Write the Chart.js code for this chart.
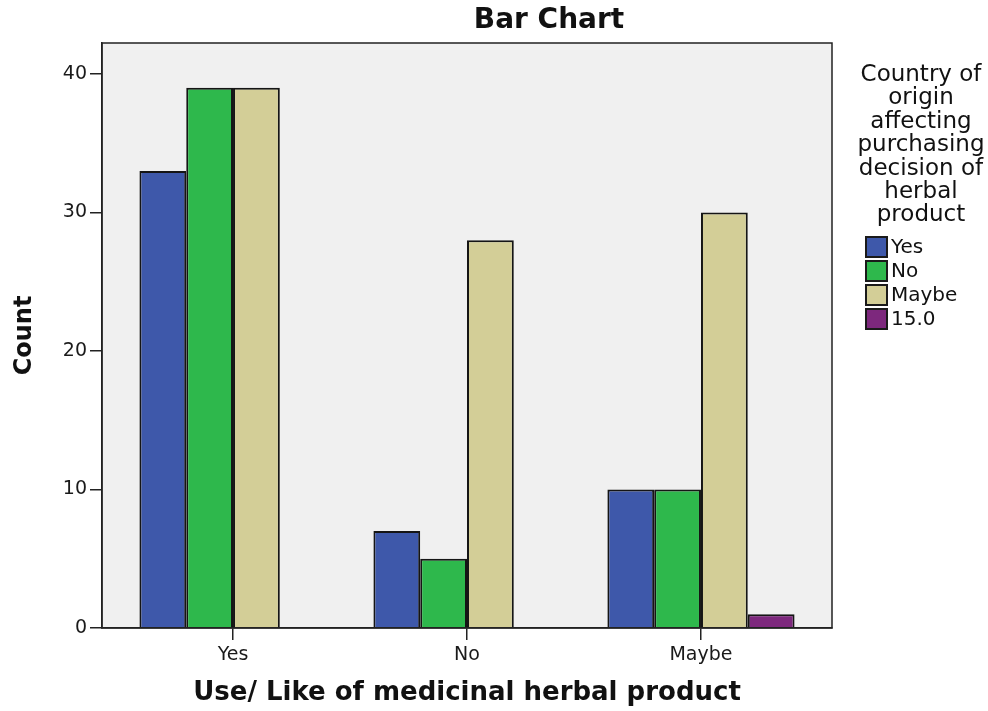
<!DOCTYPE html>
<html>
<head>
<meta charset="utf-8">
<script src="https://cdn.jsdelivr.net/npm/chart.js@4.4.1/dist/chart.umd.min.js"></script>
<style>
  html, body { margin: 0; padding: 0; background: #fff; }
  #wrap { width: 988px; height: 711px; }
</style>
</head>
<body>
<div id="wrap"><canvas id="barChart" width="988" height="711"></canvas></div>
<script>
var categories = ['Yes', 'No', 'Maybe'];
var seriesNames = ['Yes', 'No', 'Maybe', '15.0'];
var yesValues = [33, 7, 10];
var noValues = [39, 5, 10];
var maybeValues = [39, 28, 30];
var otherValues = [0, 0, 1];
var yTicks = [0, 10, 20, 30, 40];

var colors = {
  blue: 'rgb(62, 88, 170)',
  green: 'rgb(46, 184, 76)',
  tan: 'rgb(211, 206, 151)',
  purple: 'rgb(125, 40, 125)'
};
var seriesColors = [colors.blue, colors.green, colors.tan, colors.purple];
var legendTitle = ['Country of', 'origin', 'affecting', 'purchasing', 'decision of', 'herbal', 'product'];

function points(values) {
  return values.map(function (v, i) { return { x: i, y: v }; });
}

// grey plot box, title and legend
var decorations = {
  id: 'decorations',
  beforeDraw: function (chart) {
    var ctx = chart.ctx, a = chart.chartArea;
    ctx.save();
    ctx.fillStyle = '#f0f0f0';
    ctx.fillRect(a.left, a.top, a.right - a.left, a.bottom - a.top);
    ctx.restore();
  },
  afterDraw: function (chart) {
    var ctx = chart.ctx, a = chart.chartArea;
    ctx.save();
    ctx.strokeStyle = '#222';
    ctx.lineWidth = 1.5;
    ctx.strokeRect(a.left, a.top, a.right - a.left, a.bottom - a.top);

    ctx.fillStyle = '#111';
    ctx.textAlign = 'center';
    ctx.textBaseline = 'alphabetic';
    ctx.font = 'bold 28px "DejaVu Sans"';
    ctx.fillText('Bar Chart', 549, 28);

    ctx.font = '23px "DejaVu Sans"';
    legendTitle.forEach(function (line, i) {
      ctx.fillText(line, 921, 81 + i * 23.4);
    });

    ctx.textAlign = 'left';
    ctx.textBaseline = 'middle';
    ctx.font = '20px "DejaVu Sans"';
    chart.data.datasets.forEach(function (ds, i) {
      var top = 237 + i * 24;
      ctx.fillStyle = ds.backgroundColor;
      ctx.fillRect(866, top, 21, 20);
      ctx.strokeStyle = '#1a1a1a';
      ctx.lineWidth = 2;
      ctx.strokeRect(866, top, 21, 20);
      ctx.fillStyle = '#111';
      ctx.fillText(ds.label, 891, top + 11);
    });
    ctx.restore();
  }
};

var ctx = document.getElementById('barChart').getContext('2d');
var valueSets = [yesValues, noValues, maybeValues, otherValues];
var chart = new Chart(ctx, {
  type: 'bar',
  data: {
    datasets: valueSets.map(function (vals, i) {
      return {
        label: seriesNames[i],
        data: points(vals),
        backgroundColor: seriesColors[i],
        borderColor: '#151515',
        borderWidth: 2,
        categoryPercentage: 0.8,
        barPercentage: 1.0
      };
    })
  },
  options: {
    responsive: false,
    animation: false,
    layout: { padding: { top: 43, right: 156, left: 0, bottom: 0 } },
    plugins: {
      legend: { display: false },
      title: { display: false },
      tooltip: { enabled: false }
    },
    scales: {
      x: {
        type: 'linear',
        min: -0.56,
        max: 2.56,
        offset: false,
        afterFit: function (s) { s.height = 83; },
        grid: { offset: false, drawOnChartArea: false, color: '#222', tickLength: 12, lineWidth: 1.5 },
        border: { display: true, color: '#222', width: 1.5 },
        ticks: {
          stepSize: 1,
          includeBounds: false,
          padding: 4,
          color: '#1a1a1a',
          font: { family: 'DejaVu Sans', size: 19 },
          callback: function (v) { return categories[v] !== undefined ? categories[v] : ''; }
        },
        title: {
          display: true,
          text: 'Use/ Like of medicinal herbal product',
          color: '#111',
          font: { family: 'DejaVu Sans', size: 26, weight: 'bold' },
          padding: { top: 0, bottom: 2 }
        }
      },
      y: {
        min: 0,
        max: 42.24,
        afterFit: function (s) { s.width = 102; },
        afterBuildTicks: function (s) { s.ticks = yTicks.map(function (v) { return { value: v }; }); },
        grid: { drawOnChartArea: false, color: '#222', tickLength: 12, lineWidth: 1.5 },
        border: { display: true, color: '#222', width: 1.5 },
        ticks: {
          stepSize: 10,
          includeBounds: false,
          padding: 3,
          color: '#1a1a1a',
          font: { family: 'DejaVu Sans', size: 19 }
        },
        title: {
          display: true,
          text: 'Count',
          color: '#111',
          font: { family: 'DejaVu Sans', size: 24, weight: 'bold' },
          padding: { top: 10, bottom: 0 }
        }
      }
    }
  },
  plugins: [decorations]
});
</script>
</body>
</html>
